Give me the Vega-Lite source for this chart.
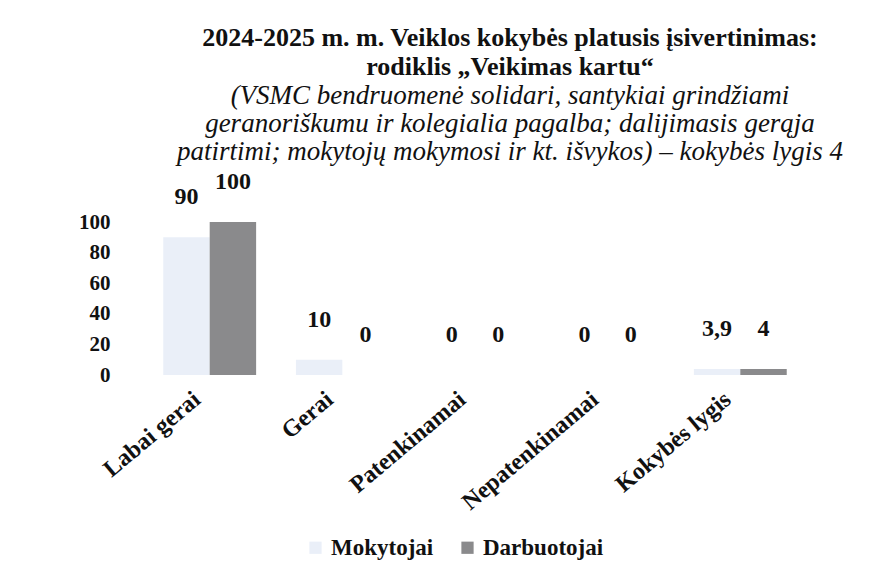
{
  "$schema": "https://vega.github.io/schema/vega-lite/v6.json",
  "autosize": "none",
  "width": 650,
  "height": 153,
  "padding": {"left": 150, "top": 222, "right": 87, "bottom": 204},
  "background": "white",
  "config": {
    "view": {"stroke": null},
    "font": "Liberation Serif",
    "locale": {"number": {"decimal": ",", "thousands": " ", "grouping": [3], "currency": ["", " €"]}}
  },
  "title": {
    "text": ["2024-2025 m. m. Veiklos kokybės platusis įsivertinimas:", "rodiklis  „Veikimas kartu“"],
    "subtitle": ["(VSMC bendruomenė solidari, santykiai grindžiami", "geranoriškumu ir kolegialia pagalba; dalijimasis gerąja", "patirtimi; mokytojų mokymosi ir kt. išvykos) – kokybės lygis 4"],
    "anchor": "middle",
    "frame": "group",
    "dx": 35,
    "offset": 5,
    "font": "Liberation Serif",
    "fontSize": 26,
    "fontWeight": "bold",
    "lineHeight": 29,
    "color": "#111",
    "subtitleFont": "Liberation Serif",
    "subtitleFontSize": 27,
    "subtitleFontStyle": "italic",
    "subtitleLineHeight": 28,
    "subtitlePadding": 3,
    "subtitleColor": "#111"
  },
  "data": {
    "values": [
      {"category": "Labai gerai", "group": "Mokytojai", "value": 90},
      {"category": "Labai gerai", "group": "Darbuotojai", "value": 100},
      {"category": "Gerai", "group": "Mokytojai", "value": 10},
      {"category": "Gerai", "group": "Darbuotojai", "value": 0},
      {"category": "Patenkinamai", "group": "Mokytojai", "value": 0},
      {"category": "Patenkinamai", "group": "Darbuotojai", "value": 0},
      {"category": "Nepatenkinamai", "group": "Mokytojai", "value": 0},
      {"category": "Nepatenkinamai", "group": "Darbuotojai", "value": 0},
      {"category": "Kokybės lygis", "group": "Mokytojai", "value": 3.9},
      {"category": "Kokybės lygis", "group": "Darbuotojai", "value": 4}
    ]
  },
  "encoding": {
    "x": {
      "field": "category",
      "type": "nominal",
      "sort": null,
      "title": null,
      "scale": {"paddingInner": 0.3, "paddingOuter": 0.1},
      "axis": {
        "labelAngle": -40,
        "labelFont": "Liberation Serif",
        "labelFontSize": 24,
        "labelFontWeight": "bold",
        "labelColor": "#111",
        "labelPadding": 12,
        "labelOffset": -20,
        "ticks": false,
        "domain": false
      }
    },
    "xOffset": {"field": "group", "type": "nominal", "sort": ["Mokytojai", "Darbuotojai"], "scale": {"paddingInner": 0}},
    "y": {
      "field": "value",
      "type": "quantitative",
      "title": null,
      "scale": {"domain": [0, 100], "nice": false},
      "axis": {
        "values": [0, 20, 40, 60, 80, 100],
        "grid": false,
        "ticks": false,
        "domain": false,
        "labelFont": "Liberation Serif",
        "labelFontSize": 21,
        "labelFontWeight": "bold",
        "labelColor": "#111",
        "labelPadding": 40
      }
    }
  },
  "layer": [
    {
      "mark": {"type": "bar"},
      "encoding": {
        "color": {
          "field": "group",
          "type": "nominal",
          "sort": ["Mokytojai", "Darbuotojai"],
          "scale": {"domain": ["Mokytojai", "Darbuotojai"], "range": ["#eaeff8", "#8a8a8c"]},
          "legend": {
            "title": null,
            "orient": "none",
            "legendX": 154,
            "legendY": 314,
            "direction": "horizontal",
            "symbolType": "square",
            "symbolSize": 150,
            "symbolStrokeWidth": 0,
            "labelFont": "Liberation Serif",
            "labelFontSize": 23,
            "labelFontWeight": "bold",
            "labelColor": "#111",
            "columnPadding": 22
          }
        }
      }
    },
    {
      "mark": {"type": "text", "dy": -40, "font": "Liberation Serif", "fontSize": 24, "fontWeight": "bold"},
      "encoding": {
        "text": {"field": "value", "type": "quantitative", "format": ".2~f"},
        "color": {"value": "#111"}
      }
    }
  ]
}
